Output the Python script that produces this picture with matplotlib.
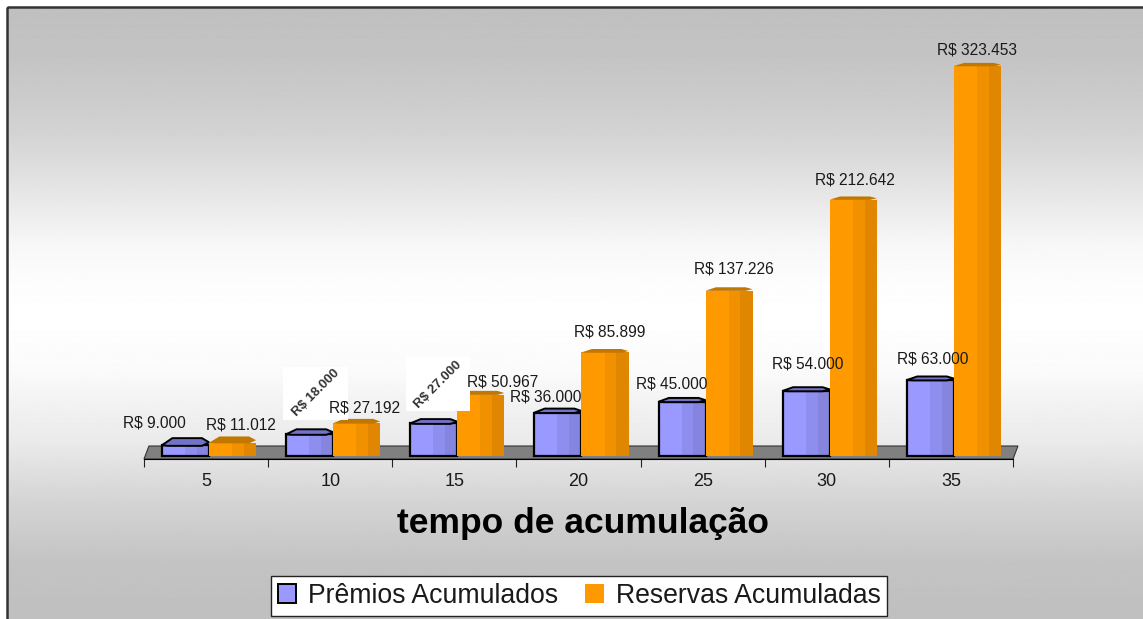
#!/usr/bin/env python

import matplotlib
matplotlib.use('Agg')
import matplotlib.pyplot as plt
import numpy as np
from matplotlib.patches import Polygon, Rectangle

WIDTH, HEIGHT = 1143, 619

categories = ['5', '10', '15', '20', '25', '30', '35']
premios = [9000, 18000, 27000, 36000, 45000, 54000, 63000]
reservas = [11012, 27192, 50967, 85899, 137226, 212642, 323453]
premios_labels = ['R$ 9.000', 'R$ 18.000', 'R$ 27.000', 'R$ 36.000',
                  'R$ 45.000', 'R$ 54.000', 'R$ 63.000']
reservas_labels = ['R$ 11.012', 'R$ 27.192', 'R$ 50.967', 'R$ 85.899',
                   'R$ 137.226', 'R$ 212.642', 'R$ 323.453']

# label offsets from the top of each bar, in pixels (placed by hand in the original)
premios_offsets = [(-31, 22), (6, 41), (4, 39), (-12, 16), (-10, 18), (1, 27), (2, 21)]
reservas_offsets = [(8, 18), (8, 15), (22, 13), (5, 20), (5, 22), (2, 20), (0, 16)]
# these two labels sit rotated on a white box in the original
boxed = {1: (65, 53), 2: (64, 54)}

PURPLE = ['#9999FF', '#8E8EEE', '#8585DF', '#7272C8']
ORANGE = ['#FF9900', '#F29100', '#E08600', '#C27800']
FACES = [0.0, 0.49, 0.74, 1.0]
BAR_W = 0.379
PX = 323453 / 390.0  # data units per pixel
TXT = '#1a1a1a'

plt.rcParams['font.family'] = ['Liberation Sans', 'DejaVu Sans']


def cap_points(left, top, cap):
    xs = np.array([0.0, 0.22, 0.85, 1.0, 0.85, 0.12])
    ys = np.array([0.0, 1.0, 1.0, 0.4, -0.1, -0.1])
    return np.column_stack([left + xs * BAR_W, top + ys * cap * PX])


def draw_prism(ax, left, value, colors, outline):
    # front faces of the prism, then the darker top
    for k in range(3):
        ax.bar(left + FACES[k] * BAR_W, value, (FACES[k + 1] - FACES[k]) * BAR_W,
               align='edge', color=colors[k], linewidth=0, zorder=3)
    cap = 3 + 4 * 9000 / max(value, 9000)
    edge = 'black' if outline else 'none'
    if outline:
        ax.bar(left, value, BAR_W, align='edge', fill=False, edgecolor='black',
               linewidth=1.6, zorder=3)
    ax.add_patch(Polygon(cap_points(left, value, cap), closed=True, facecolor=colors[3],
                         edgecolor=edge, linewidth=1.4, zorder=3))


fig = plt.figure(figsize=(WIDTH / 100, HEIGHT / 100), dpi=100, facecolor='white')

# background panel with the vertical grey-white-grey gradient
bg = fig.add_axes([0, 0, 1, 1], zorder=0)
bg.axis('off')
rows = np.arange(HEIGHT)
shade = np.interp(rows,
                  [8, 50, 100, 130, 200, 240, 280, 316, 370, 410, 440, 500, 560, 600],
                  [192, 196, 205, 212, 234, 247, 253, 255, 250, 240, 234, 212, 196, 192])
shade = shade[:, None] / 255
bg.imshow(shade, cmap='gray', vmin=0, vmax=1, extent=[7, WIDTH + 5, HEIGHT, 7], aspect='auto')
bg.set_xlim(0, WIDTH)
bg.set_ylim(HEIGHT, 0)
bg.add_patch(Rectangle((7, 7), WIDTH, HEIGHT, fill=False, edgecolor='#333333', linewidth=1.8))

ax_left, ax_right, ax_top, ax_bottom = 144, 1013, 7, 459
ax = fig.add_axes([ax_left / WIDTH, 1 - ax_bottom / HEIGHT,
                   (ax_right - ax_left) / WIDTH, (ax_bottom - ax_top) / HEIGHT], zorder=1)
ax.patch.set_alpha(0)
ax.set_xlim(0, 7)
ax.set_ylim(-3 * PX, 449 * PX)
for side in ['top', 'left', 'right']:
    ax.spines[side].set_visible(False)
ax.set_yticks([])
ax.set_xticks(range(8))
ax.set_xticklabels([])
ax.tick_params(axis='x', which='major', length=6, width=0.8, color='#222222')
ax.set_xticks(np.arange(7) + 0.5, minor=True)
ax.set_xticklabels(categories, minor=True, fontsize=13, color=TXT)
ax.tick_params(axis='x', which='minor', length=0, pad=10)
ax.set_xlabel('tempo de acumulação', fontsize=25.5, fontweight='bold', color='black')
ax.xaxis.set_label_coords((583 - ax_left) / (ax_right - ax_left), -64 / (ax_bottom - ax_top),
                          transform=ax.transAxes)
ax.xaxis.label.set_verticalalignment('center')

# grey floor under the bars
ax.add_patch(Polygon([(0, -3 * PX), (0.04, 10 * PX), (7.04, 10 * PX), (7, -3 * PX)], closed=True,
                     facecolor='#808080', edgecolor='#333333', linewidth=0.8, zorder=1,
                     clip_on=False))

for i in range(len(categories)):
    draw_prism(ax, i + 0.145, premios[i], PURPLE, True)
    draw_prism(ax, i + 0.524, reservas[i], ORANGE, False)

    x_p = i + 0.145 + BAR_W / 2
    x_r = i + 0.524 + BAR_W / 2
    if i in boxed:
        w, h = boxed[i]
        dx, dy = premios_offsets[i]
        cx = x_p + dx * 7 / (ax_right - ax_left)
        cy = premios[i] + dy * PX
        ax.add_patch(Rectangle((cx - w / 2 * 7 / (ax_right - ax_left), cy - h / 2 * PX),
                               w * 7 / (ax_right - ax_left), h * PX,
                               facecolor='white', edgecolor='none', zorder=4))
        ax.text(cx, cy, premios_labels[i], rotation=45, ha='center', va='center',
                fontsize=9.5, fontweight='bold', color='#333333', zorder=5)
    else:
        ax.annotate(premios_labels[i], (x_p, premios[i]), xytext=premios_offsets[i],
                    textcoords='offset pixels', ha='center', va='center',
                    fontsize=11.2, color=TXT, zorder=5)
    ax.annotate(reservas_labels[i], (x_r, reservas[i]), xytext=reservas_offsets[i],
                textcoords='offset pixels', ha='center', va='center',
                fontsize=11.2, color=TXT, zorder=6)

handles = [Rectangle((0, 0), 1, 1, facecolor=PURPLE[0], edgecolor='black', linewidth=1.4),
           Rectangle((0, 0), 1, 1, facecolor=ORANGE[0], edgecolor='none')]
leg = fig.legend(handles, ['Prêmios Acumulados', 'Reservas Acumuladas'], ncol=2, loc='center',
                 bbox_to_anchor=(579 / WIDTH, 1 - 596 / HEIGHT), fontsize=19.2, frameon=True,
                 fancybox=False, framealpha=1, facecolor='white', edgecolor='#222222',
                 handlelength=0.7, handleheight=0.7, handletextpad=0.45, columnspacing=1.0,
                 borderpad=0.25, borderaxespad=0, labelcolor='#1a1a1a')
leg.get_frame().set_linewidth(1.0)

plt.savefig('out.png', dpi=100, facecolor='white')
